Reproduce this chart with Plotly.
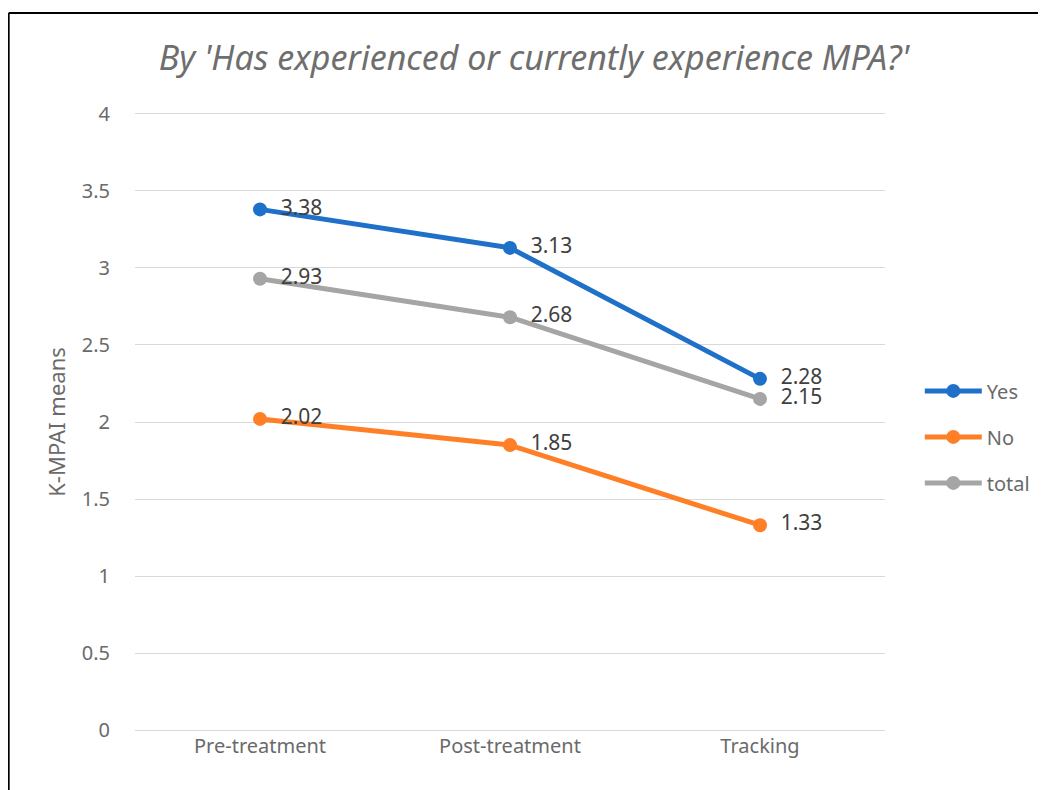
import plotly.graph_objects as go

categories = ["Pre-treatment", "Post-treatment", "Tracking"]
yes_vals = [3.38, 3.13, 2.28]
no_vals = [2.02, 1.85, 1.33]
total_vals = [2.93, 2.68, 2.15]
series_names = ["Yes", "No", "total"]
colors = ["#1F70C8", "#FF7F27", "#A5A5A5"]
y_ticks = [0, 0.5, 1, 1.5, 2, 2.5, 3, 3.5, 4]
y_ticktext = ["0", "0.5", "1", "1.5", "2", "2.5", "3", "3.5", "4"]

# page has an 8px body margin, so the figure is 8px smaller
W, H = 1038, 782
L, R, T, B = 127, 160, 104, 58
PW, PH = W - L - R, H - T - B

fig = go.Figure()
for name, vals, col in zip(series_names, [yes_vals, no_vals, total_vals], colors):
    fig.add_trace(go.Scatter(
        x=categories, y=vals, name=name, mode="lines+markers+text",
        legendgroup=name,
        line=dict(color=col, width=5),
        marker=dict(color=col, size=14),
        text=["\u00a0\u00a0" + f"{v:.2f}" for v in vals],
        textposition="middle right",
        textfont=dict(family="Noto Sans", size=21, color="#404040"),
        cliponaxis=False,
    ))

def px_x(x):
    return (x - L) / PW

def px_y(y):
    return (H - B - y) / PH

fig.update_layout(
    width=W, height=H,
    margin=dict(l=L, r=R, t=T, b=B),
    paper_bgcolor="white", plot_bgcolor="white",
    font=dict(family="Noto Sans", color="#6A6A6A"),
    title=dict(text="By 'Has experienced or currently experience MPA?'",
               x=526 / W, xanchor="center", y=1 - 50 / H, yanchor="middle",
               font=dict(family="Noto Sans", size=34, color="#6E6E6E", style="italic")),
    xaxis=dict(range=[-0.5, 2.5], showgrid=False, showline=False, zeroline=False,
               tickfont=dict(size=20, color="#6A6A6A"), ticks=""),
    yaxis=dict(range=[-0.012, 4.012], tickvals=y_ticks, ticktext=y_ticktext,
               showgrid=True, gridcolor="#D9D9D9", gridwidth=1.3,
               zeroline=False, showline=False,
               tickfont=dict(size=20, color="#6A6A6A"), ticks="outside", ticklen=20,
               tickcolor="white",
               title=dict(text="K-MPAI means", font=dict(size=22, color="#6A6A6A"), standoff=10)),
    legend=dict(x=1.045, xanchor="left", y=0.476, yanchor="middle",
                font=dict(size=20, color="#6A6A6A"), itemwidth=57,
                tracegroupgap=17, bgcolor="rgba(0,0,0,0)"),
    showlegend=True,
    shapes=[
        dict(type="line", xref="paper", yref="paper",
             x0=px_x(0.5), x1=px_x(W + 5),
             y0=px_y(5), y1=px_y(5),
             line=dict(color="black", width=2)),
        dict(type="line", xref="paper", yref="paper",
             x0=px_x(0.5), x1=px_x(0.5),
             y0=px_y(5), y1=px_y(H + 10),
             line=dict(color="black", width=2)),
    ],
)

fig.write_html("out.html")
